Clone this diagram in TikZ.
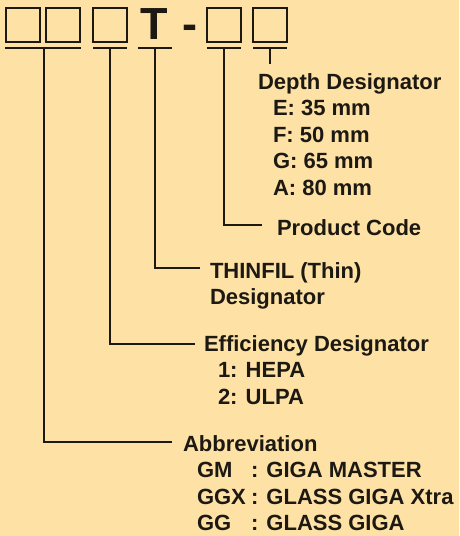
\documentclass[tikz,border=0pt]{standalone}
\usepackage{fontspec}
\setmainfont{Liberation Sans}

\begin{document}
\begin{tikzpicture}[x=1pt,y=-1pt]
\definecolor{fillColor}{RGB}{254,225,165}
\definecolor{drawColor}{RGB}{28,24,18}
\tikzset{
  lbl/.style={text=drawColor,anchor=base west,inner sep=0pt,outer sep=0pt,
    font=\fontsize{22}{26}\selectfont\bfseries},
  bigchar/.style={text=drawColor,anchor=base,inner sep=0pt,outer sep=0pt,
    font=\fontsize{45}{50}\selectfont\bfseries},
  slot/.style={draw=drawColor,line width=1.3pt,minimum width=34pt,
    minimum height=34pt,inner sep=0pt,outer sep=0pt},
  lead/.style={draw=drawColor,line width=1.1pt,line join=miter}
}
\path[use as bounding box,fill=fillColor] (0,0) rectangle (459,536);

% model number slots
\node[slot] (abbA) at ( 23,25) {};
\node[slot] (abbB) at ( 63,25) {};
\node[slot] (eff) at (110,25) {};
\node[bigchar] (thin) at (154,39.5) {T};
\node[bigchar] (dash) at (189.5,39.5) {-};
\node[slot] (prod) at (224,25) {};
\node[slot] (depth) at (270,25) {};

% underlines
\path[lead] (  5,48) -- ( 81,48);
\path[lead] ( 93,48) -- (127,48);
\path[lead] (138,48) -- (172,48);
\path[lead] (207,48) -- (241,48);
\path[lead] (253,48) -- (287,48);
\coordinate (uAbb) at ( 44,48);
\coordinate (uEff) at (110,48);
\coordinate (uThin) at (155,48);
\coordinate (uProd) at (224,48);
\coordinate (uDepth) at (270,48);

% labels
\node[lbl] (depthHead) at (258, 89.0) {Depth Designator};
\node[lbl] (depthE) at (273,115.5) {E: 35 mm};
\node[lbl] (depthF) at (273,142.0) {F: 50 mm};
\node[lbl] (depthG) at (273,168.5) {G: 65 mm};
\node[lbl] (depthA) at (273,195.0) {A: 80 mm};

\node[lbl] (prodHead) at (277,235.0) {Product Code};

\node[lbl] (thinHead) at (210,278.0) {THINFIL (Thin)};
\node[lbl] (thinTwo) at (210,304.5) {Designator};

\node[lbl] (effHead) at (204,351.0) {Efficiency Designator};
\node[lbl] (effOne) at (218,377.5) {1: HEPA};
\node[lbl] (effTwo) at (218,404.0) {2: ULPA};

\node[lbl] (abbHead) at (183,451.0) {Abbreviation};
\node[lbl] (abbGM) at (197,477.5) {GM};
\node[lbl] (abbGGX) at (197,504.0) {GGX};
\node[lbl] (abbGG) at (197,530.5) {GG};
\node[lbl] (nameGM) at (251,477.5) {: GIGA MASTER};
\node[lbl] (nameGGX) at (251,504.0) {: GLASS GIGA Xtra};
\node[lbl] (nameGG) at (251,530.5) {: GLASS GIGA};

% leader lines
\coordinate (eDepth) at (270, 64);
\coordinate (eProd) at (262,225);
\coordinate (eThin) at (200,268);
\coordinate (eEff) at (195,344);
\coordinate (eAbb) at (172,442);
\path[lead] (uDepth) -- (eDepth);
\path[lead] (uProd) |- (eProd);
\path[lead] (uThin) |- (eThin);
\path[lead] (uEff) |- (eEff);
\path[lead] (uAbb) |- (eAbb);
\end{tikzpicture}
\end{document}
